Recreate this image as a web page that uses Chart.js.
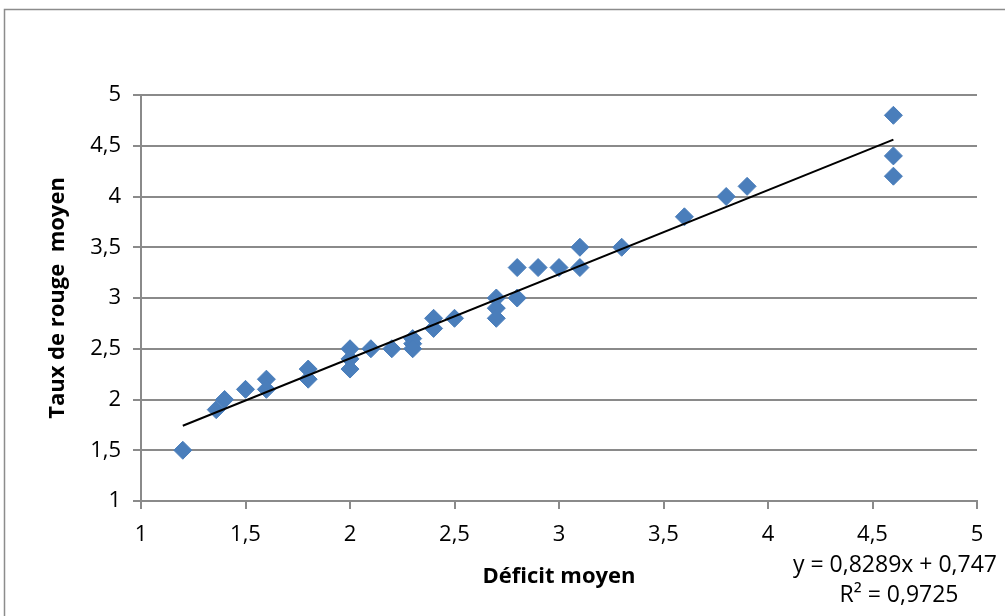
<!DOCTYPE html>
<html lang="fr">
<head>
<meta charset="UTF-8">
<title>Taux de rouge moyen en fonction du déficit moyen</title>
<script src="https://cdn.jsdelivr.net/npm/chart.js"></script>
<style>
    body { margin: 0; background: #ffffff; }
    canvas { display: block; }
</style>
</head>
<body>
<canvas id="chart" width="1005" height="616"></canvas>
<script>
    // values
    const deficit   = [1.2, 1.36, 1.4, 1.5, 1.6, 1.6, 1.8, 1.8, 2.0, 2.0, 2.0, 2.1, 2.2, 2.3, 2.3, 2.3, 2.4, 2.4, 2.5,
                       2.7, 2.7, 2.7, 2.8, 2.8, 2.9, 3.0, 3.1, 3.1, 3.3, 3.6, 3.8, 3.9, 4.6, 4.6, 4.6];
    const tauxRouge = [1.5, 1.9, 2.0, 2.1, 2.2, 2.1, 2.3, 2.2, 2.5, 2.4, 2.3, 2.5, 2.5, 2.6, 2.55, 2.5, 2.8, 2.7, 2.8,
                       3.0, 2.9, 2.8, 3.3, 3.0, 3.3, 3.3, 3.5, 3.3, 3.5, 3.8, 4.0, 4.1, 4.8, 4.4, 4.2];

    // linear trendline as printed on the chart
    const trendSlope = 0.8289;
    const trendIntercept = 0.747;
    const trendLabel = ['y = 0,8289x + 0,747', 'R² = 0,9725'];

    const xTitle = 'Déficit moyen';
    const yTitle = 'Taux de rouge  moyen';
    const axisMin = 1, axisMax = 5, axisStep = 0.5;

    const FONT = "'Open Sans', sans-serif";
    const GRID = '#8a8a8a';

    const points = deficit.map((x, i) => ({ x: x, y: tauxRouge[i] }));
    const xLo = Math.min(...deficit), xHi = Math.max(...deficit);
    const trend = [xLo, xHi].map(x => ({ x: x, y: trendSlope * x + trendIntercept }));

    const comma = v => String(v).replace('.', ',');

    // grey frame round the whole chart + trendline equation
    const extras = {
        id: 'extras',
        beforeDraw(chart) {
            const ctx = chart.ctx;
            ctx.save();
            ctx.fillStyle = '#ffffff';
            ctx.fillRect(0, 0, chart.width, chart.height);
            ctx.strokeStyle = '#8c8c8c';
            ctx.lineWidth = 1.5;
            ctx.strokeRect(4.5, 9.5, chart.width + 20, chart.height + 20);
            ctx.restore();
        },
        afterDraw(chart) {
            const ctx = chart.ctx;
            ctx.save();
            ctx.fillStyle = '#000000';
            ctx.font = '23px ' + FONT;
            ctx.textAlign = 'center';
            ctx.textBaseline = 'middle';
            ctx.fillText(trendLabel[0], 895, 565);
            ctx.fillText(trendLabel[1], 899, 595);
            ctx.restore();
        }
    };

    new Chart(document.getElementById('chart'), {
        type: 'scatter',
        data: {
            datasets: [{
                type: 'line',
                label: 'Linéaire',
                data: trend,
                borderColor: '#000000',
                borderWidth: 2,
                pointRadius: 0,
                fill: false
            }, {
                label: 'Taux de rouge moyen',
                data: points,
                pointStyle: 'rectRot',
                pointRadius: 9,
                backgroundColor: '#4a7ebb',
                borderColor: '#4a7ebb',
                borderWidth: 1
            }]
        },
        options: {
            responsive: false,
            animation: false,
            layout: { padding: { top: 95, right: 28, left: 0, bottom: 0 } },
            plugins: {
                legend: { display: false },
                tooltip: { enabled: false }
            },
            scales: {
                x: {
                    type: 'linear',
                    min: axisMin,
                    max: axisMax,
                    afterFit(s) { s.height = 115; },
                    border: { color: GRID, width: 2 },
                    grid: { drawOnChartArea: false, drawTicks: true, tickLength: 8, color: GRID, lineWidth: 2 },
                    ticks: {
                        stepSize: axisStep,
                        padding: 13,
                        color: '#000000',
                        font: { family: FONT, size: 22 },
                        maxRotation: 0,
                        callback: v => comma(v)
                    },
                    title: {
                        display: true,
                        text: xTitle,
                        color: '#000000',
                        font: { family: FONT, size: 22, weight: 'bold' },
                        padding: 26
                    }
                },
                y: {
                    type: 'linear',
                    min: axisMin,
                    max: axisMax,
                    afterFit(s) { s.width = 141; },
                    border: { color: GRID, width: 2 },
                    grid: { tickLength: 8, color: GRID, lineWidth: 2 },
                    ticks: {
                        stepSize: axisStep,
                        padding: 12,
                        color: '#000000',
                        font: { family: FONT, size: 22 },
                        callback: v => comma(v)
                    },
                    title: {
                        display: true,
                        text: yTitle,
                        color: '#000000',
                        font: { family: FONT, size: 22, weight: 'bold' },
                        padding: 45
                    }
                }
            }
        },
        plugins: [extras]
    });
</script>
</body>
</html>
